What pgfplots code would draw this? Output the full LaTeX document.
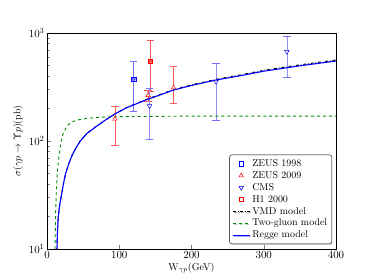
\documentclass[border=0pt]{standalone}
\usepackage{pgfplots}
\pgfplotsset{compat=1.18}
\usetikzlibrary{shadows}
\definecolor{dgreen}{rgb}{0,0.55,0}
\definecolor{ebblue}{rgb}{0.45,0.45,1}
\definecolor{ebred}{rgb}{1,0.35,0.35}
\begin{document}
\begin{tikzpicture}
\begin{axis}[
  scale only axis, width=289bp, height=216bp,
  xmin=0, xmax=400, ymode=log, ymin=10, ymax=1000,
  xtick={0,100,200,300,400},
  xtick pos=left, ytick pos=left, tick align=inside,
  xlabel={W$_{\gamma p}$(GeV)},
  ylabel={$\sigma(\gamma p\rightarrow\Upsilon p)$(pb)},
  every axis x label/.style={at={(axis description cs:0.5,-0.088)}, anchor=center},
  every axis y label/.style={at={(axis description cs:-0.1,0.5)}, rotate=90, anchor=center},
  tick label style={font=\fontsize{11}{13}\selectfont},
  xticklabel style={yshift=1pt},
  yticklabel style={xshift=1pt},
  label style={font=\normalsize},
  legend style={at={(0.986,0.023)}, anchor=south east, font=\normalsize,
    draw=black, rounded corners=2pt, drop shadow={opacity=0.3, shadow xshift=1pt, shadow yshift=-1pt},
    fill=white, row sep=-0.5pt, inner sep=2.5pt},
  legend cell align=left,
]
% error bars of single-point series (no marks)
\addplot[forget plot, only marks, mark=none, color=ebblue,
  error bars/.cd, y dir=both, y explicit, error bar style={color=ebblue, line width=0.7pt}, error mark options={rotate=90, color=ebblue, mark size=3.8pt}]
  coordinates {(120,375) += (0,176) -= (0,185)};
\addplot[forget plot, only marks, mark=none, color=ebred,
  error bars/.cd, y dir=both, y explicit, error bar style={color=ebred, line width=0.7pt}, error mark options={rotate=90, color=ebred, mark size=3.8pt}]
  coordinates {(143,551) += (0,304) -= (0,259)};
% ZEUS 1998
\addplot[only marks, color=blue, mark=square, mark size=2.2pt, mark options={solid, draw=blue, line width=0.5pt}]
  coordinates {(120,375)};
\addlegendentry{ZEUS 1998}
% ZEUS 2009
\addplot[only marks, color=red, mark=triangle*, mark size=2.6pt, mark options={solid, draw=red, fill=white, line width=0.5pt},
  error bars/.cd, y dir=both, y explicit, error bar style={color=ebred, line width=0.7pt}, error mark options={rotate=90, color=ebred, mark size=3.8pt}]
  coordinates {
    (94,160) += (0,52) -= (0,68)
    (140,265) += (0,30) -= (0,30)
    (175,312) += (0,176) -= (0,89)
  };
\addlegendentry{ZEUS 2009}
% CMS
\addplot[only marks, color=blue, mark=triangle*, mark size=2.6pt, mark options={solid, rotate=180, draw=blue, fill=white, line width=0.5pt},
  error bars/.cd, y dir=both, y explicit, error bar style={color=ebblue!80, line width=0.7pt}, error mark options={rotate=90, color=ebblue, mark size=3.8pt}]
  coordinates {
    (142,211) += (0,97) -= (0,106)
    (234,354) += (0,169) -= (0,198)
    (332,671) += (0,254) -= (0,285)
  };
\addlegendentry{CMS}
% H1 2000
\addplot[only marks, color=red, mark=square, mark size=2.2pt, mark options={solid, draw=red, line width=0.5pt}]
  coordinates {(143,551)};
\addlegendentry{H1 2000}
% VMD
\addplot[black, dash dot, line width=1pt] coordinates {
(13.0,6) (13.8,10) (14.6,15) (15.6,20) (17.5,25.5) (20.2,32) (23,41) (25.8,50) (30,61)
(34,72) (40,86) (46,100) (55,117) (68,136) (80,155) (94,178) (110,204) (137,242)
(160,275) (175,299) (200,331) (234,372) (270,412) (300,451) (350,507) (400,562)};
\addlegendentry{VMD model}
% Two-gluon
\addplot[dgreen, dashed, line width=0.9pt] coordinates {
(10.6,6) (11,10) (12,22) (13,35) (14.2,50) (16,67) (17.9,83) (19.5,100) (22,115)
(27,136) (33,148) (41,156) (55,162) (73,166) (100,168) (150,169) (200,170) (300,170) (400,170)};
\addlegendentry{Two-gluon model}
% Regge
\addplot[blue, solid, line width=1.1pt] coordinates {
(13.0,6) (13.8,10) (14.6,15) (15.6,20) (17.5,25.5) (20.2,32) (23,41) (25.8,50) (30,61)
(34,72) (40,86) (46,100) (55,117) (68,136) (80,155) (94,178) (110,203) (137,240)
(160,272) (175,296) (200,327) (234,367) (270,405) (300,443) (350,497) (400,550)};
\addlegendentry{Regge model}
\end{axis}
\pgfresetboundingbox
\path[use as bounding box] (-47bp,-31bp) rectangle (327bp,249bp);
\end{tikzpicture}
\end{document}
